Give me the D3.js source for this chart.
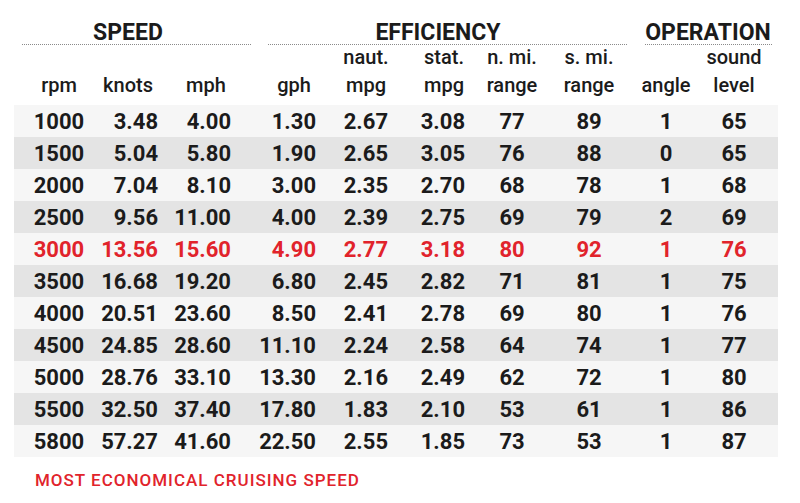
<!DOCTYPE html>
<html>
<head>
<meta charset="utf-8">
<script src="https://cdn.jsdelivr.net/npm/d3@7"></script>
<style>
  body { margin: 0; background: #fff; }
  svg { display: block; font-family: Roboto, "Open Sans", sans-serif; }
</style>
</head>
<body>
<div id="chart"></div>
<script>
// Table data
const rpm        = ['1000','1500','2000','2500','3000','3500','4000','4500','5000','5500','5800']
const knots      = ['3.48','5.04','7.04','9.56','13.56','16.68','20.51','24.85','28.76','32.50','57.27']
const mph        = ['4.00','5.80','8.10','11.00','15.60','19.20','23.60','28.60','33.10','37.40','41.60']
const gph        = ['1.30','1.90','3.00','4.00','4.90','6.80','8.50','11.10','13.30','17.80','22.50']
const nautMpg    = ['2.67','2.65','2.35','2.39','2.77','2.45','2.41','2.24','2.16','1.83','2.55']
const statMpg    = ['3.08','3.05','2.70','2.75','3.18','2.82','2.78','2.58','2.49','2.10','1.85']
const nmiRange   = ['77','76','68','69','80','71','69','64','62','53','73']
const smiRange   = ['89','88','78','79','92','81','80','74','72','61','53']
const angle      = ['1','0','1','2','1','1','1','1','1','1','1']
const soundLevel = ['65','65','68','69','76','75','76','77','80','86','87']

const groupLabels = ['SPEED', 'EFFICIENCY', 'OPERATION']
const headTop     = ['', '', '', '', 'naut.', 'stat.', 'n. mi.', 's. mi.', '', 'sound']
const headBottom  = ['rpm', 'knots', 'mph', 'gph', 'mpg', 'mpg', 'range', 'range', 'angle', 'level']
const highlightRpm = '3000'
const footnote = 'MOST ECONOMICAL CRUISING SPEED'

const width = 800, height = 503
const red = '#e1232b', ink = '#1b1b1b'

const columns = [rpm, knots, mph, gph, nautMpg, statMpg, nmiRange, smiRange, angle, soundLevel]

// column layout: x position and text anchor for the values
const colX      = [59, 158, 231, 316, 388, 465, 512, 589, 666, 734]
const colAnchor = ['middle','end','end','end','end','end','middle','middle','middle','middle']
const headX     = [59, 128, 206, 294, 366, 444, 512, 589, 666, 734]

// group header spans (line extents)
const groupSpans = [[22, 252], [268, 628], [645, 773]]
const groupTextX = [128, 438, 708]

const svg = d3.select('#chart').append('svg')
    .attr('width', width)
    .attr('height', height)

const y = d3.scaleBand()
    .domain(rpm)
    .range([105, 457])
    .padding(0)

// Row stripes
svg.selectAll('.stripe')
    .data(rpm)
    .enter()
    .append('rect')
    .classed('stripe', true)
    .attr('x', 14)
    .attr('width', 764)
    .attr('y', d => y(d))
    .attr('height', y.bandwidth())
    .style('fill', (_, i) => i % 2 ? '#e4e4e4' : '#f6f6f6')

// Group headers
svg.selectAll('.group-label')
    .data(groupLabels)
    .enter()
    .append('text')
    .classed('group-label', true)
    .attr('x', (_, i) => groupTextX[i])
    .attr('y', 40)
    .attr('text-anchor', 'middle')
    .style('font-size', '23px')
    .style('font-weight', 700)
    .style('fill', ink)
    .text(d => d)

svg.selectAll('.group-line')
    .data(groupSpans)
    .enter()
    .append('line')
    .classed('group-line', true)
    .attr('x1', d => d[0])
    .attr('x2', d => d[1])
    .attr('y1', 44.5)
    .attr('y2', 44.5)
    .style('stroke', '#8a8a8a')
    .style('stroke-width', 1)
    .style('stroke-dasharray', '1 1')

// Column headers
svg.selectAll('.head-top')
    .data(headTop)
    .enter()
    .append('text')
    .classed('head-top', true)
    .attr('x', (_, i) => headX[i])
    .attr('y', 64)
    .attr('text-anchor', 'middle')
    .style('font-size', '20px')
    .style('font-weight', 500)
    .style('fill', ink)
    .text(d => d)

svg.selectAll('.head-bottom')
    .data(headBottom)
    .enter()
    .append('text')
    .classed('head-bottom', true)
    .attr('x', (_, i) => headX[i])
    .attr('y', 92)
    .attr('text-anchor', 'middle')
    .style('font-size', '20px')
    .style('font-weight', 500)
    .style('fill', ink)
    .text(d => d)

// Cells
const rows = svg.selectAll('.row')
    .data(rpm)
    .enter()
    .append('g')
    .classed('row', true)
    .attr('transform', d => 'translate(0,' + (y(d) + y.bandwidth() / 2) + ')')

rows.selectAll('text')
    .data((_, r) => columns.map(c => c[r]))
    .enter()
    .append('text')
    .attr('x', (_, i) => colX[i])
    .attr('dy', '0.36em')
    .attr('text-anchor', (_, i) => colAnchor[i])
    .style('font-size', '22px')
    .style('font-weight', 700)
    .style('fill', function() {
        return d3.select(this.parentNode).datum() === highlightRpm ? red : ink
    })
    .text(d => d)

// Footnote
svg.append('text')
    .attr('x', 35)
    .attr('y', 486)
    .style('font-size', '17px')
    .style('font-weight', 500)
    .style('letter-spacing', '1px')
    .style('fill', red)
    .text(footnote)
</script>
</body>
</html>
